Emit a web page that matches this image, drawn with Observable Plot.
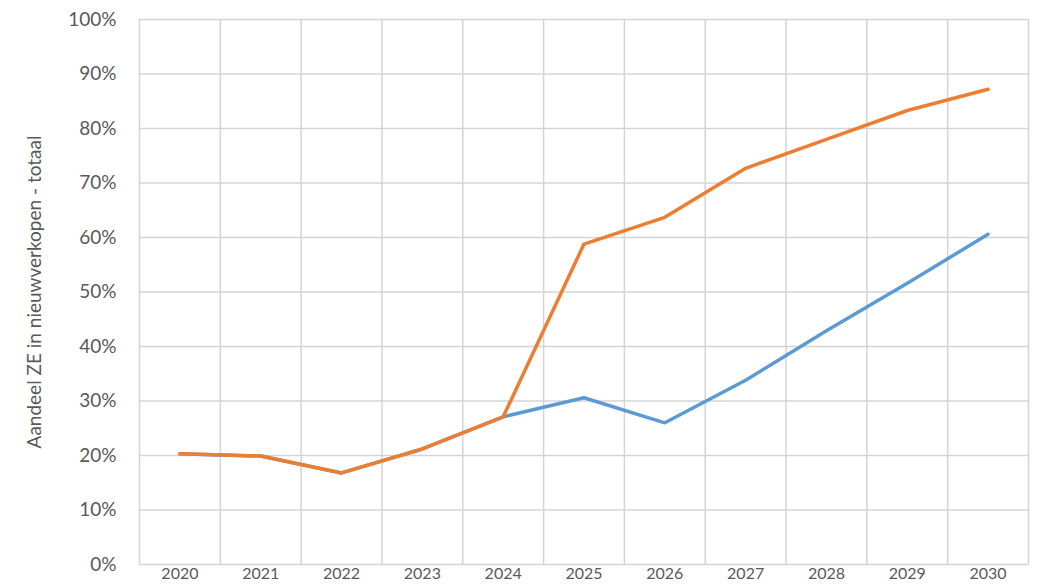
<!DOCTYPE html>
<html>
<head>
<meta charset="utf-8">
<script src="https://cdn.jsdelivr.net/npm/d3@7"></script>
<script src="https://cdn.jsdelivr.net/npm/@observablehq/plot@0.6"></script>
<style>
  html, body { margin: 0; padding: 0; background: #fff; overflow: hidden; }
  #chart svg { display: block; }
</style>
</head>
<body>
<div id="chart"></div>
<script>
const years = [2020, 2021, 2022, 2023, 2024, 2025, 2026, 2027, 2028, 2029, 2030];
const blueValues = [20.3, 19.9, 16.8, 21.2, 27.1, 30.6, 26.0, 33.8, 42.9, 51.6, 60.6];
const orangeValues = [20.3, 19.9, 16.8, 21.2, 27.1, 58.8, 63.7, 72.7, 78.0, 83.3, 87.2];
const yTicks = [0, 10, 20, 30, 40, 50, 60, 70, 80, 90, 100];
const yTitle = "Aandeel ZE in nieuwverkopen - totaal";

const blue = years.map((year, i) => ({year, value: blueValues[i]}));
const orange = years.map((year, i) => ({year, value: orangeValues[i]}));
const boundaries = [...years.map(y => y - 0.5), years[years.length - 1] + 0.5];

const chart = Plot.plot({
  width: 1038,
  height: 585,
  marginLeft: 139,
  marginRight: 10,
  marginTop: 19,
  marginBottom: 21,
  style: {fontFamily: "Lato, 'Open Sans', sans-serif", fontSize: "19px", color: "#595959", background: "#fff"},
  x: {domain: [years[0] - 0.5, years[years.length - 1] + 0.5]},
  y: {domain: [0, 100]},
  marks: [
    Plot.ruleY(yTicks, {stroke: "#d4d4d4", strokeWidth: 1.5}),
    Plot.ruleX(boundaries, {stroke: "#d4d4d4", strokeWidth: 1.5}),
    Plot.axisY({
      ticks: yTicks,
      tickSize: 0,
      tickPadding: 23,
      tickFormat: d => d + "%",
      label: yTitle,
      labelAnchor: "center",
      labelArrow: "none",
      labelOffset: 112,
      fill: "#595959"
    }),
    Plot.axisX({
      ticks: years,
      tickSize: 0,
      tickPadding: 3,
      fontSize: 16,
      tickFormat: d => String(d),
      label: null,
      fill: "#595959"
    }),
    Plot.line(blue, {x: "year", y: "value", stroke: "#5B9BD5", strokeWidth: 3.5, strokeLinejoin: "round", strokeLinecap: "round"}),
    Plot.line(orange, {x: "year", y: "value", stroke: "#ED7D31", strokeWidth: 3.5, strokeLinejoin: "round", strokeLinecap: "round"})
  ]
});
document.getElementById("chart").appendChild(chart);
</script>
</body>
</html>
